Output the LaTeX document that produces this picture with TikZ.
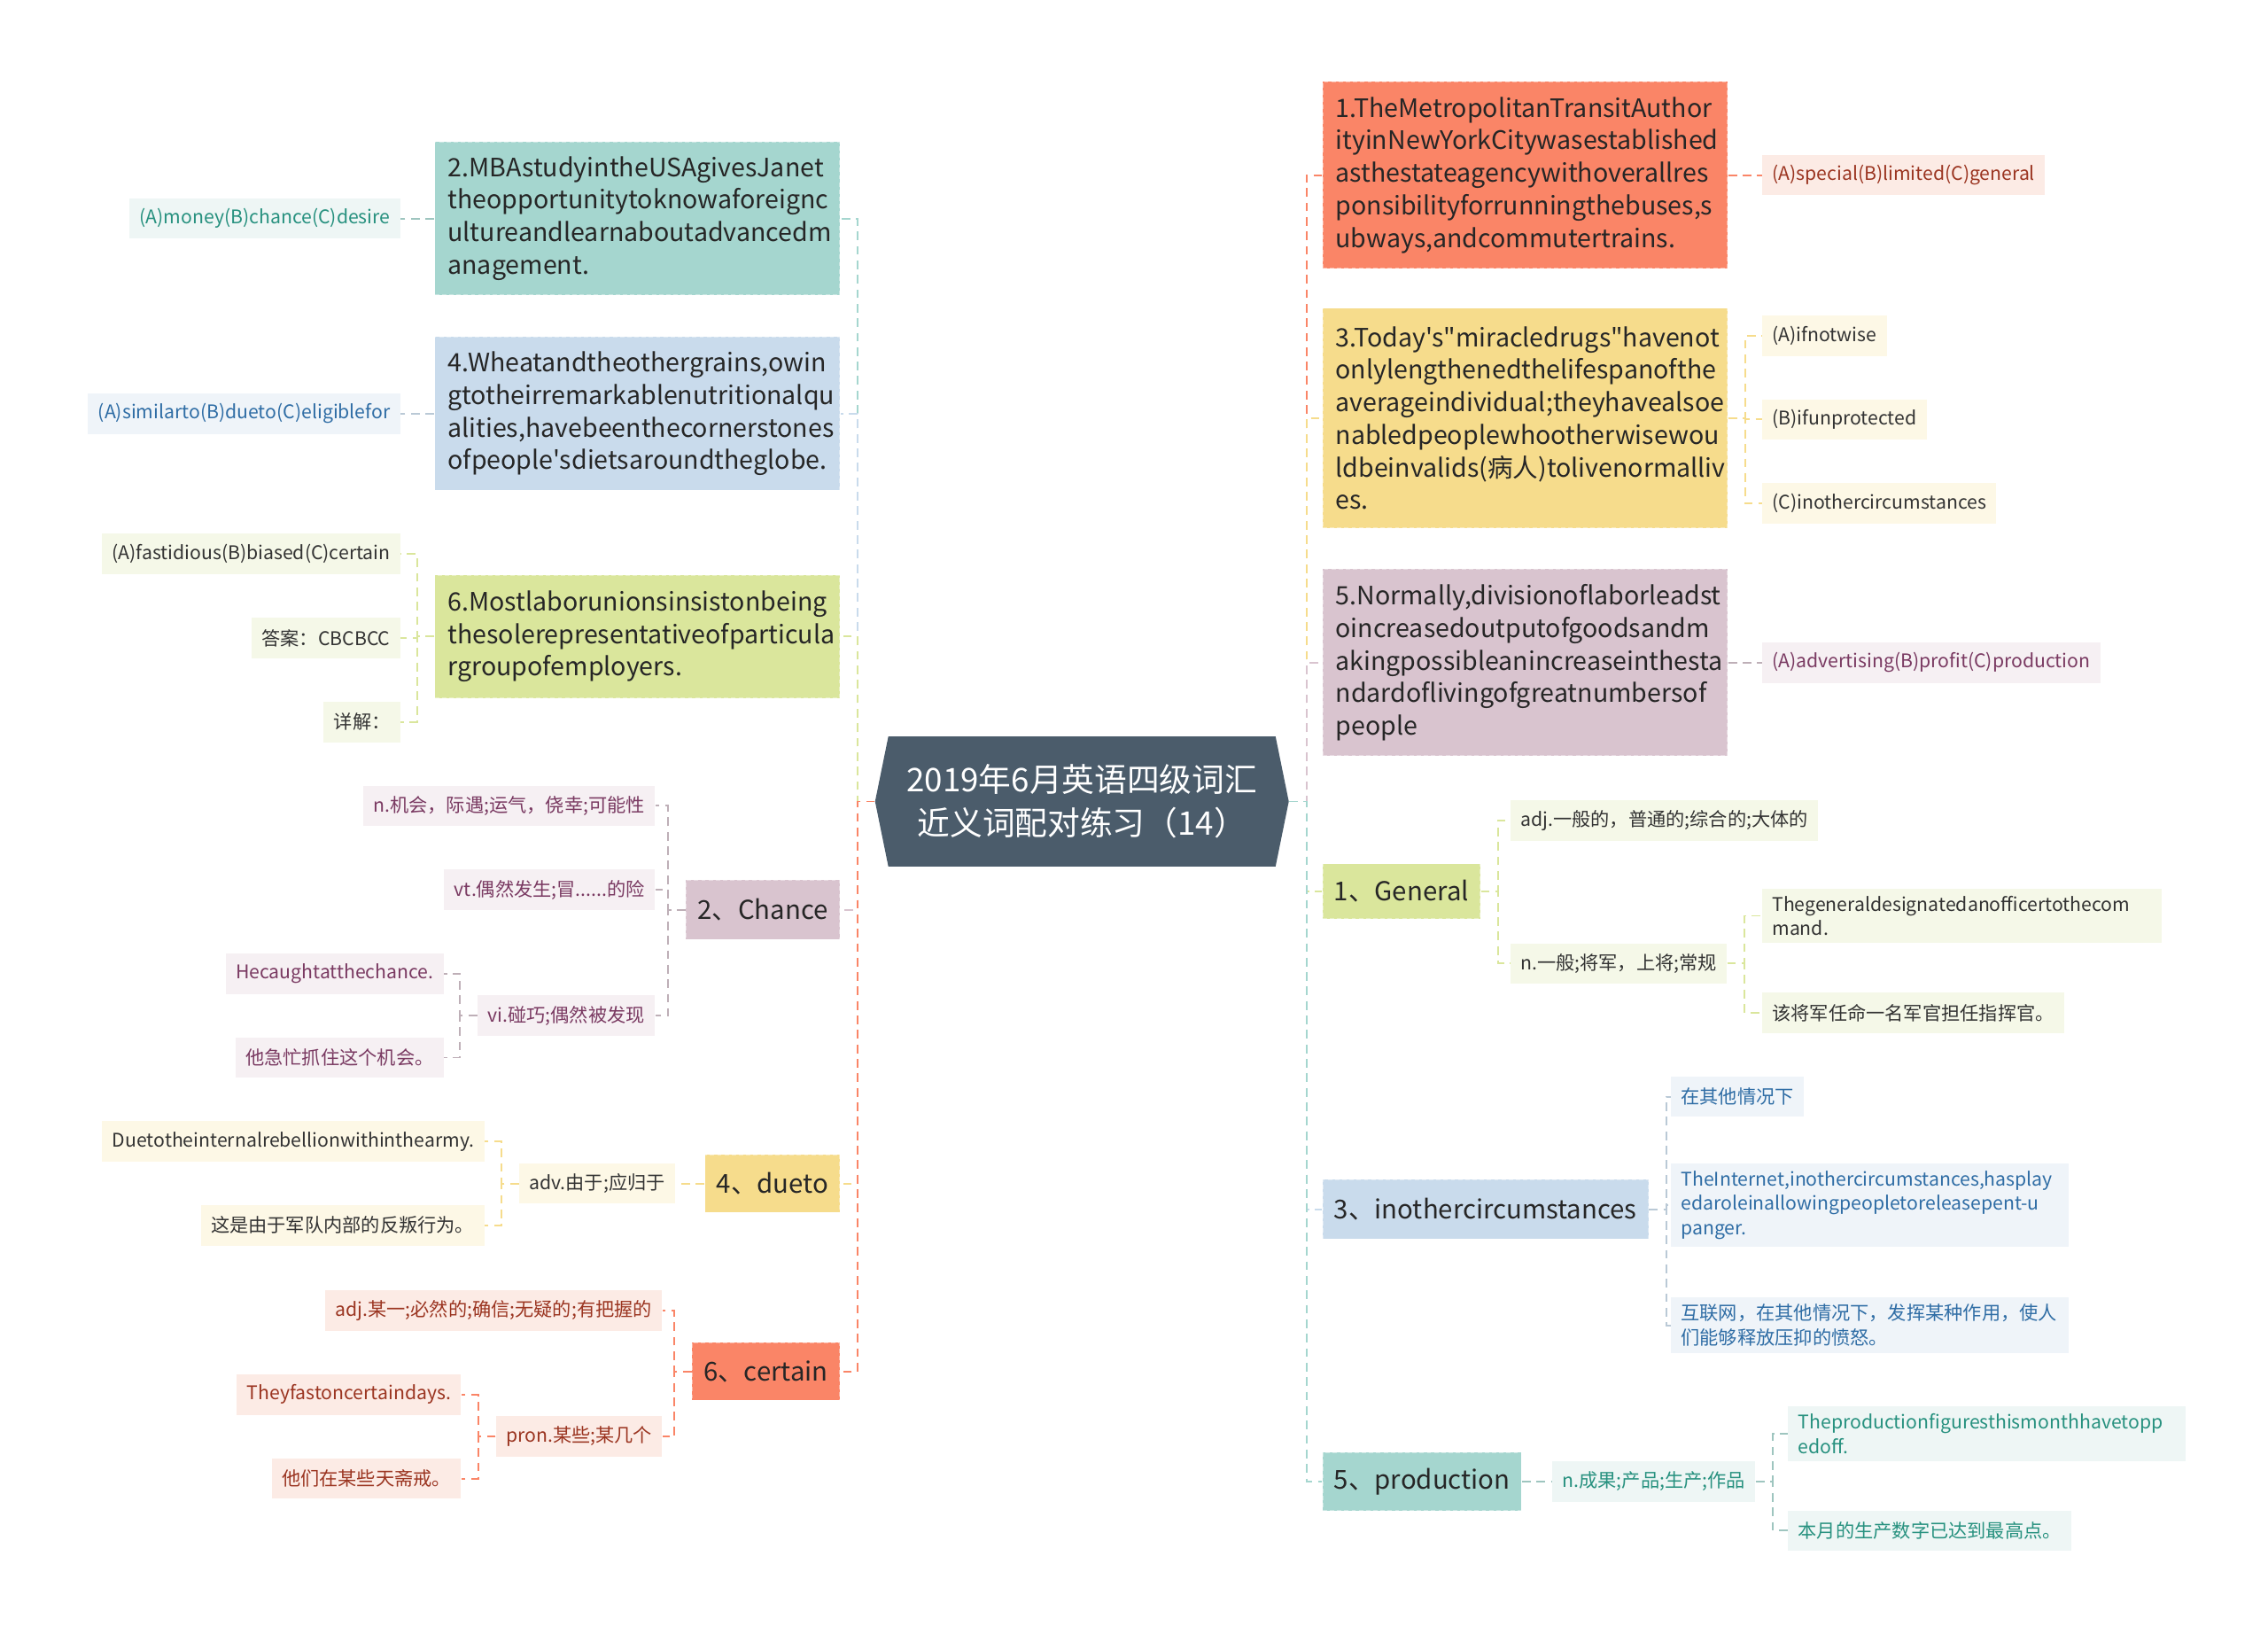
\documentclass[tikz,border=0pt]{standalone}
\usepackage{fontspec}
\setmainfont{Noto Sans CJK SC}[Ligatures=TeXOff]
\usepackage{tikz}
\usetikzlibrary{shapes.symbols}

\definecolor{rootc}{HTML}{4B5C6B}
\definecolor{coralc}{HTML}{FA8567}
\definecolor{yellowc}{HTML}{F6DC8C}
\definecolor{mauvec}{HTML}{D9C4CF}
\definecolor{greenc}{HTML}{DAE69C}
\definecolor{bluec}{HTML}{C9DBEC}
\definecolor{tealc}{HTML}{A5D6CF}
\definecolor{coralbg}{HTML}{FCEBE5}
\definecolor{yellowbg}{HTML}{FDF8E6}
\definecolor{mauvebg}{HTML}{F6F0F3}
\definecolor{greenbg}{HTML}{F5F8E8}
\definecolor{bluebg}{HTML}{EFF4F9}
\definecolor{tealbg}{HTML}{EEF6F5}
\definecolor{coraltx}{HTML}{9B3521}
\definecolor{mauvetx}{HTML}{7A3A62}
\definecolor{bluetx}{HTML}{2F6DA5}
\definecolor{tealtx}{HTML}{27917F}
\definecolor{darktx}{HTML}{333333}

\tikzset{
  link/.style={dash pattern=on 6pt off 4pt, line width=1.2pt},
  rim/.style={draw=white, draw opacity=0.4, dash pattern=on 3pt off 2pt, line width=0.8pt},
  rootbox/.style={signal, signal to=west and east, signal pointer angle=157,
    fill=rootc, text=white, align=center, minimum width=286pt, minimum height=90pt,
    inner xsep=4pt, font=\fontsize{22.5}{30}\selectfont},
  sentbox/.style={rectangle, rim, inner xsep=9pt, inner ysep=0pt, text width=262pt,
    align=left, text=black!85, font=\fontsize{17.5}{22.5}\selectfont},
  wordbox/.style={rectangle, rim, inner xsep=8pt, inner ysep=0pt, minimum height=40pt,
    text=black!85, font=\fontsize{18}{22}\selectfont},
  leaf/.style={rectangle, inner xsep=7pt, inner ysep=5pt, minimum height=28pt,
    align=left, font=\fontsize{13}{17}\selectfont},
  leafcoral/.style={leaf, fill=coralbg, text=coraltx},
  leafyellow/.style={leaf, fill=yellowbg, text=darktx},
  leafmauve/.style={leaf, fill=mauvebg, text=mauvetx},
  leafgreen/.style={leaf, fill=greenbg, text=darktx},
  leafblue/.style={leaf, fill=bluebg, text=bluetx},
  leafteal/.style={leaf, fill=tealbg, text=tealtx}
}

\begin{document}
\begin{tikzpicture}[x=1pt,y=-1pt]
\fill[white] (0,0) rectangle (1568,1129);
\useasboundingbox (0,0) rectangle (1568,1129);

\node[rootbox] (root) at (748,554) {2019年6月英语四级词汇\\近义词配对练习（14）};

% left branches
\node[sentbox, fill=tealc, minimum height=106pt, anchor=east] (q2) at (581,151) {2.MBAstudyintheUSAgivesJanet\\theopportunitytoknowaforeignc\\ultureandlearnaboutadvancedm\\anagement.};
\node[sentbox, fill=bluec, minimum height=106pt, anchor=east] (q4) at (581,286) {4.Wheatandtheothergrains,owin\\gtotheirremarkablenutritionalqu\\alities,havebeenthecornerstones\\ofpeople'sdietsaroundtheglobe.};
\node[sentbox, fill=greenc, minimum height=85pt, anchor=east] (q6) at (581,440) {6.Mostlaborunionsinsistonbeing\\thesolerepresentativeofparticula\\rgroupofemployers.};
\node[wordbox, fill=mauvec, minimum height=41pt, anchor=east] (w2) at (581,629) {2、Chance};
\node[wordbox, fill=yellowc, anchor=east] (w4) at (581,818) {4、dueto};
\node[wordbox, fill=coralc, anchor=east] (w6) at (581,948) {6、certain};

\node[leafteal, anchor=east] (a2) at (277,151) {(A)money(B)chance(C)desire};
\node[leafblue, anchor=east] (a4) at (277,286) {(A)similarto(B)dueto(C)eligiblefor};
\node[leafgreen, anchor=east] (a6) at (277,383) {(A)fastidious(B)biased(C)certain};
\node[leafgreen, anchor=east] (k6) at (277,441) {答案：CBCBCC};
\node[leafgreen, anchor=east] (x6) at (277,499) {详解：};

\node[leafmauve, anchor=east] (c1) at (453,557) {n.机会，际遇;运气，侥幸;可能性};
\node[leafmauve, anchor=east] (c2) at (453,615) {vt.偶然发生;冒......的险};
\node[leafmauve, anchor=east] (c3) at (453,702) {vi.碰巧;偶然被发现};
\node[leafmauve, anchor=east] (c31) at (307,673) {Hecaughtatthechance.};
\node[leafmauve, anchor=east] (c32) at (307,731) {他急忙抓住这个机会。};

\node[leafyellow, anchor=east] (d1) at (467,818) {adv.由于;应归于};
\node[leafyellow, anchor=east] (d11) at (335,789) {Duetotheinternalrebellionwithinthearmy.};
\node[leafyellow, anchor=east] (d12) at (335,847) {这是由于军队内部的反叛行为。};

\node[leafcoral, anchor=east] (e1) at (458,906) {adj.某一;必然的;确信;无疑的;有把握的};
\node[leafcoral, anchor=east] (e2) at (458,993) {pron.某些;某几个};
\node[leafcoral, anchor=east] (e21) at (319,964) {Theyfastoncertaindays.};
\node[leafcoral, anchor=east] (e22) at (319,1022) {他们在某些天斋戒。};

% right branches
\node[sentbox, fill=coralc, minimum height=129pt, anchor=west] (q1) at (914,121) {1.TheMetropolitanTransitAuthor\\ityinNewYorkCitywasestablished\\asthestateagencywithoverallres\\ponsibilityforrunningthebuses,s\\ubways,andcommutertrains.};
\node[sentbox, fill=yellowc, minimum height=152pt, anchor=west] (q3) at (914,289) {3.Today's"miracledrugs"havenot\\onlylengthenedthelifespanofthe\\averageindividual;theyhavealsoe\\nabledpeoplewhootherwisewou\\ldbeinvalids(病人)tolivenormalliv\\es.};
\node[sentbox, fill=mauvec, minimum height=129pt, anchor=west] (q5) at (914,458) {5.Normally,divisionoflaborleadst\\oincreasedoutputofgoodsandm\\akingpossibleanincreaseinthesta\\ndardoflivingofgreatnumbersof\\people};
\node[wordbox, fill=greenc, minimum height=38pt, anchor=west] (w1) at (914,616) {1、General};
\node[wordbox, fill=bluec, minimum height=41pt, anchor=west] (w3) at (914,836) {3、inothercircumstances};
\node[wordbox, fill=tealc, anchor=west] (w5) at (914,1024) {5、production};

\node[leafcoral, anchor=west] (b1) at (1218,121) {(A)special(B)limited(C)general};
\node[leafyellow, anchor=west] (b3a) at (1218,232) {(A)ifnotwise};
\node[leafyellow, anchor=west] (b3b) at (1218,290) {(B)ifunprotected};
\node[leafyellow, anchor=west] (b3c) at (1218,348) {(C)inothercircumstances};
\node[leafmauve, anchor=west] (b5) at (1218,458) {(A)advertising(B)profit(C)production};

\node[leafgreen, anchor=west] (g1) at (1044,567) {adj.一般的，普通的;综合的;大体的};
\node[leafgreen, anchor=west] (g2) at (1044,666) {n.一般;将军，上将;常规};
\node[leafgreen, anchor=west, text width=262pt] (g21) at (1218,633) {Thegeneraldesignatedanofficertothecom\\mand.};
\node[leafgreen, anchor=west] (g22) at (1218,700) {该将军任命一名军官担任指挥官。};

\node[leafblue, anchor=west] (h1) at (1155,758) {在其他情况下};
\node[leafblue, anchor=west, text width=261pt] (h2) at (1155,833) {TheInternet,inothercircumstances,hasplay\\edaroleinallowingpeopletoreleasepent-u\\panger.};
\node[leafblue, anchor=west, text width=261pt] (h3) at (1155,916) {互联网，在其他情况下，发挥某种作用，使人\\们能够释放压抑的愤怒。};

\node[leafteal, anchor=west] (p1) at (1073,1024) {n.成果;产品;生产;作品};
\node[leafteal, anchor=west, text width=261pt] (p11) at (1236,991) {Theproductionfiguresthismonthhavetopp\\edoff.};
\node[leafteal, anchor=west] (p12) at (1236,1058) {本月的生产数字已达到最高点。};

% links from the root
\draw[link, tealc] (root.west) -- ++(-12,0) |- (q2.east);
\draw[link, bluec] (root.west) -- ++(-12,0) |- (q4.east);
\draw[link, greenc] (root.west) -- ++(-12,0) |- (q6.east);
\draw[link, mauvec] (root.west) -- ++(-12,0) |- (w2.east);
\draw[link, yellowc] (root.west) -- ++(-12,0) |- (w4.east);
\draw[link, coralc] (root.west) -- ++(-12,0) |- (w6.east);
\draw[link, coralc] (root.east) -- ++(12,0) |- (q1.west);
\draw[link, yellowc] (root.east) -- ++(12,0) |- (q3.west);
\draw[link, mauvec] (root.east) -- ++(12,0) |- (q5.west);
\draw[link, greenc] (root.east) -- ++(12,0) |- (w1.west);
\draw[link, bluec] (root.east) -- ++(12,0) |- (w3.west);
\draw[link, tealc] (root.east) -- ++(12,0) |- (w5.west);

% links to the leaves
\draw[link, tealc!80!gray] (q2.west) -- (a2.east);
\draw[link, bluec!80!gray] (q4.west) -- (a4.east);
\foreach \n in {a6,k6,x6}
  \draw[link, greenc] (q6.west) -- ++(-12,0) |- (\n.east);
\foreach \n in {c1,c2,c3}
  \draw[link, mauvec!70!gray] (w2.west) -- ++(-12,0) |- (\n.east);
\foreach \n in {c31,c32}
  \draw[link, mauvec!70!gray] (c3.west) -- ++(-12,0) |- (\n.east);
\draw[link, yellowc] (w4.west) -- (d1.east);
\foreach \n in {d11,d12}
  \draw[link, yellowc] (d1.west) -- ++(-12,0) |- (\n.east);
\foreach \n in {e1,e2}
  \draw[link, coralc] (w6.west) -- ++(-12,0) |- (\n.east);
\foreach \n in {e21,e22}
  \draw[link, coralc] (e2.west) -- ++(-12,0) |- (\n.east);

\draw[link, coralc] (q1.east) -- (b1.west);
\foreach \n in {b3a,b3b,b3c}
  \draw[link, yellowc] (q3.east) -- ++(12,0) |- (\n.west);
\draw[link, mauvec!70!gray] (q5.east) -- (b5.west);
\foreach \n in {g1,g2}
  \draw[link, greenc] (w1.east) -- ++(12,0) |- (\n.west);
\foreach \n in {g21,g22}
  \draw[link, greenc] (g2.east) -- ++(12,0) |- (\n.west);
\foreach \n in {h1,h2,h3}
  \draw[link, bluec!80!gray] (w3.east) -- ++(12,0) |- (\n.west);
\draw[link, tealc!80!gray] (w5.east) -- (p1.west);
\foreach \n in {p11,p12}
  \draw[link, tealc!80!gray] (p1.east) -- ++(12,0) |- (\n.west);
\end{tikzpicture}
\end{document}
